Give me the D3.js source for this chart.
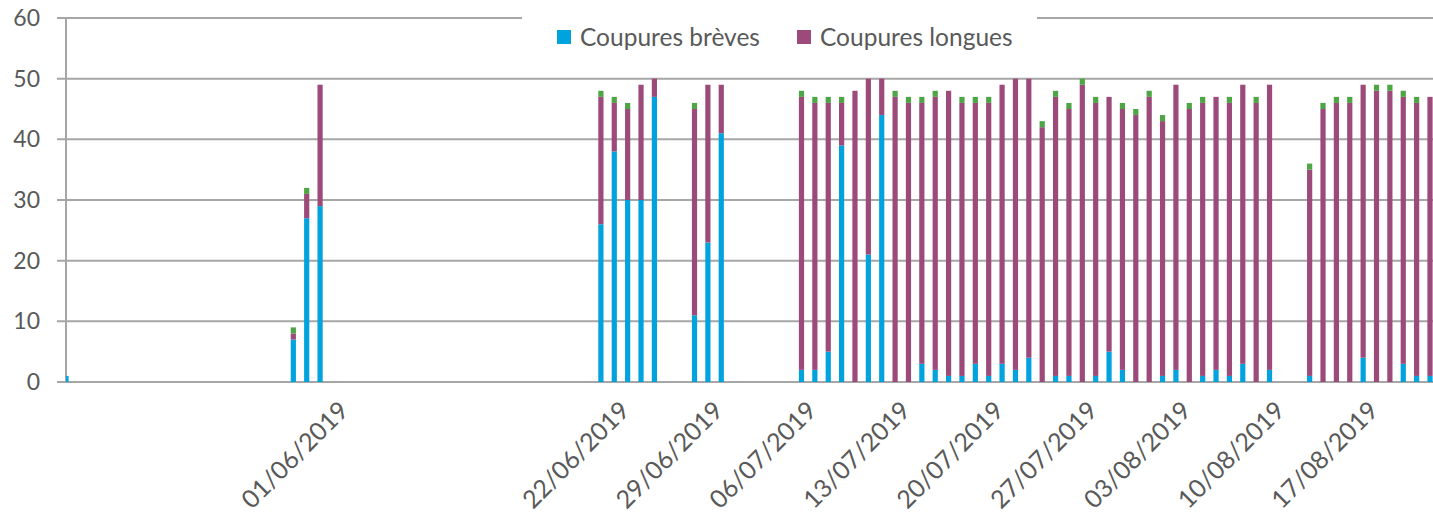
<!DOCTYPE html>
<html>
<head>
<meta charset="utf-8">
<script src="https://cdn.jsdelivr.net/npm/d3@7"></script>
<style>
    body { margin: 0; background: #fff; }
    #wrapper text { font-family: Lato, "Open Sans", sans-serif; }
</style>
</head>
<body>
<div id="wrapper"></div>
<script>
// days that have a value (dd/mm/yyyy)
const dates = [
    "13/05/2019", "30/05/2019", "31/05/2019", "01/06/2019",
    "22/06/2019", "23/06/2019", "24/06/2019", "25/06/2019", "26/06/2019",
    "29/06/2019", "30/06/2019", "01/07/2019",
    "07/07/2019", "08/07/2019", "09/07/2019", "10/07/2019", "11/07/2019", "12/07/2019",
    "13/07/2019", "14/07/2019", "15/07/2019", "16/07/2019", "17/07/2019", "18/07/2019",
    "19/07/2019", "20/07/2019", "21/07/2019", "22/07/2019", "23/07/2019", "24/07/2019",
    "25/07/2019", "26/07/2019", "27/07/2019", "28/07/2019", "29/07/2019", "30/07/2019",
    "31/07/2019", "01/08/2019", "02/08/2019", "03/08/2019", "04/08/2019", "05/08/2019",
    "06/08/2019", "07/08/2019", "08/08/2019", "09/08/2019", "10/08/2019", "11/08/2019",
    "14/08/2019", "15/08/2019", "16/08/2019", "17/08/2019", "18/08/2019", "19/08/2019",
    "20/08/2019", "21/08/2019", "22/08/2019", "23/08/2019"
]

const breves = [
    1, 7, 27, 29,
    26, 38, 30, 30, 47,
    11, 23, 41,
    2, 2, 5, 39, 0, 21,
    44, 0, 0, 3, 2, 1,
    1, 3, 1, 3, 2, 4,
    0, 1, 1, 0, 1, 5,
    2, 0, 0, 1, 2, 0,
    1, 2, 1, 3, 0, 2,
    1, 0, 0, 0, 4, 0,
    0, 3, 1, 1
]

const longues = [
    0, 1, 4, 20,
    21, 8, 15, 19, 3,
    34, 26, 8,
    45, 44, 41, 7, 48, 29,
    6, 47, 46, 43, 45, 47,
    45, 43, 45, 46, 48, 46,
    42, 46, 44, 49, 45, 42,
    43, 44, 47, 42, 47, 45,
    45, 45, 45, 46, 46, 47,
    34, 45, 46, 46, 45, 48,
    48, 44, 45, 46
]

// third series, not in the legend
const autres = [
    0, 1, 1, 0,
    1, 1, 1, 0, 0,
    1, 0, 0,
    1, 1, 1, 1, 0, 0,
    0, 1, 1, 1, 1, 0,
    1, 1, 1, 0, 0, 0,
    1, 1, 1, 1, 1, 0,
    1, 1, 1, 1, 0, 1,
    1, 0, 1, 0, 1, 0,
    1, 1, 1, 1, 0, 1,
    1, 1, 1, 0
]

const firstDay = "13/05/2019"
const lastDay = "23/08/2019"
const tickDates = [
    "01/06/2019", "22/06/2019", "29/06/2019", "06/07/2019", "13/07/2019",
    "20/07/2019", "27/07/2019", "03/08/2019", "10/08/2019", "17/08/2019"
]
const yTicks = [0, 10, 20, 30, 40, 50, 60]

const seriesKeys = ["breves", "longues", "autres"]
const seriesNames = ["Coupures brèves", "Coupures longues"]
const colors = ["#00a3dd", "#9c4a7a", "#4ea546"]

function drawChart() {
    const parseDate = d3.utcParse("%d/%m/%Y")

    const dataset = dates.map((d, i) => ({
        date: parseDate(d),
        breves: breves[i],
        longues: longues[i],
        autres: autres[i]
    }))

    let dimensions = {
        width: 1433,
        height: 516,
        margin: {
            top: 18,
            right: 2,
            bottom: 134,
            left: 66
        },
    }
    dimensions.boundedWidth = dimensions.width
        - dimensions.margin.left
        - dimensions.margin.right
    dimensions.boundedHeight = dimensions.height
        - dimensions.margin.top
        - dimensions.margin.bottom

    const wrapper = d3.select("#wrapper")
        .append("svg")
        .attr("width", dimensions.width)
        .attr("height", dimensions.height)

    const bounds = wrapper.append("g")
        .attr("transform", `translate(${dimensions.margin.left},${dimensions.margin.top})`)

    const xScale = d3.scaleUtc()
        .domain([parseDate(firstDay), parseDate(lastDay)])
        .range([0, dimensions.boundedWidth - 1])

    const yScale = d3.scaleLinear()
        .domain([0, 60])
        .range([dimensions.boundedHeight, 0])

    // gridlines
    bounds.append("g")
        .selectAll("line")
        .data(yTicks)
        .join("line")
        .attr("x1", -9)
        .attr("x2", dimensions.boundedWidth + 10)
        .attr("y1", d => yScale(d))
        .attr("y2", d => yScale(d))
        .attr("stroke", "#a6a6a6")
        .attr("stroke-width", 2)

    bounds.append("line")
        .attr("x1", 0)
        .attr("x2", 0)
        .attr("y1", 0)
        .attr("y2", dimensions.boundedHeight)
        .attr("stroke", "#a6a6a6")
        .attr("stroke-width", 2)

    // y labels
    bounds.append("g")
        .selectAll("text")
        .data(yTicks)
        .join("text")
        .attr("x", -26)
        .attr("y", d => yScale(d))
        .attr("dy", "0.35em")
        .attr("text-anchor", "end")
        .attr("fill", "#595959")
        .style("font-size", "23px")
        .text(d => d)

    // bars
    wrapper.append("clipPath")
        .attr("id", "plot-clip")
        .append("rect")
        .attr("x", 0)
        .attr("y", -5)
        .attr("width", dimensions.boundedWidth + 20)
        .attr("height", dimensions.boundedHeight + 5)

    const stacked = d3.stack().keys(seriesKeys)(dataset)
    const barWidth = 5.2

    bounds.append("g")
        .attr("clip-path", "url(#plot-clip)")
        .selectAll("g")
        .data(stacked)
        .join("g")
        .attr("fill", (d, i) => colors[i])
        .selectAll("rect")
        .data(d => d.filter(p => p[1] > p[0]))
        .join("rect")
        .attr("x", d => xScale(d.data.date) - barWidth / 2)
        .attr("width", barWidth)
        .attr("y", d => yScale(d[1]))
        .attr("height", d => yScale(d[0]) - yScale(d[1]))

    // x labels, rotated
    bounds.append("g")
        .selectAll("text")
        .data(tickDates)
        .join("text")
        .attr("transform", d =>
            `translate(${xScale(parseDate(d)) + 30},${dimensions.boundedHeight + 30}) rotate(-45)`)
        .attr("text-anchor", "end")
        .attr("fill", "#595959")
        .style("font-size", "25px")
        .text(d => d)

    // legend, white box sits on the top gridline
    const legend = wrapper.append("g")

    legend.append("rect")
        .attr("x", 522)
        .attr("y", 6)
        .attr("width", 515)
        .attr("height", 56)
        .attr("fill", "#fff")

    const items = legend.selectAll("g")
        .data(seriesNames)
        .join("g")
        .attr("transform", (d, i) => `translate(${557 + i * 240},30)`)

    items.append("rect")
        .attr("width", 14)
        .attr("height", 14)
        .attr("fill", (d, i) => colors[i])

    items.append("text")
        .attr("x", 23)
        .attr("y", 7)
        .attr("dy", "0.35em")
        .attr("fill", "#595959")
        .style("font-size", "24.5px")
        .text(d => d)
}

drawChart()
</script>
</body>
</html>
